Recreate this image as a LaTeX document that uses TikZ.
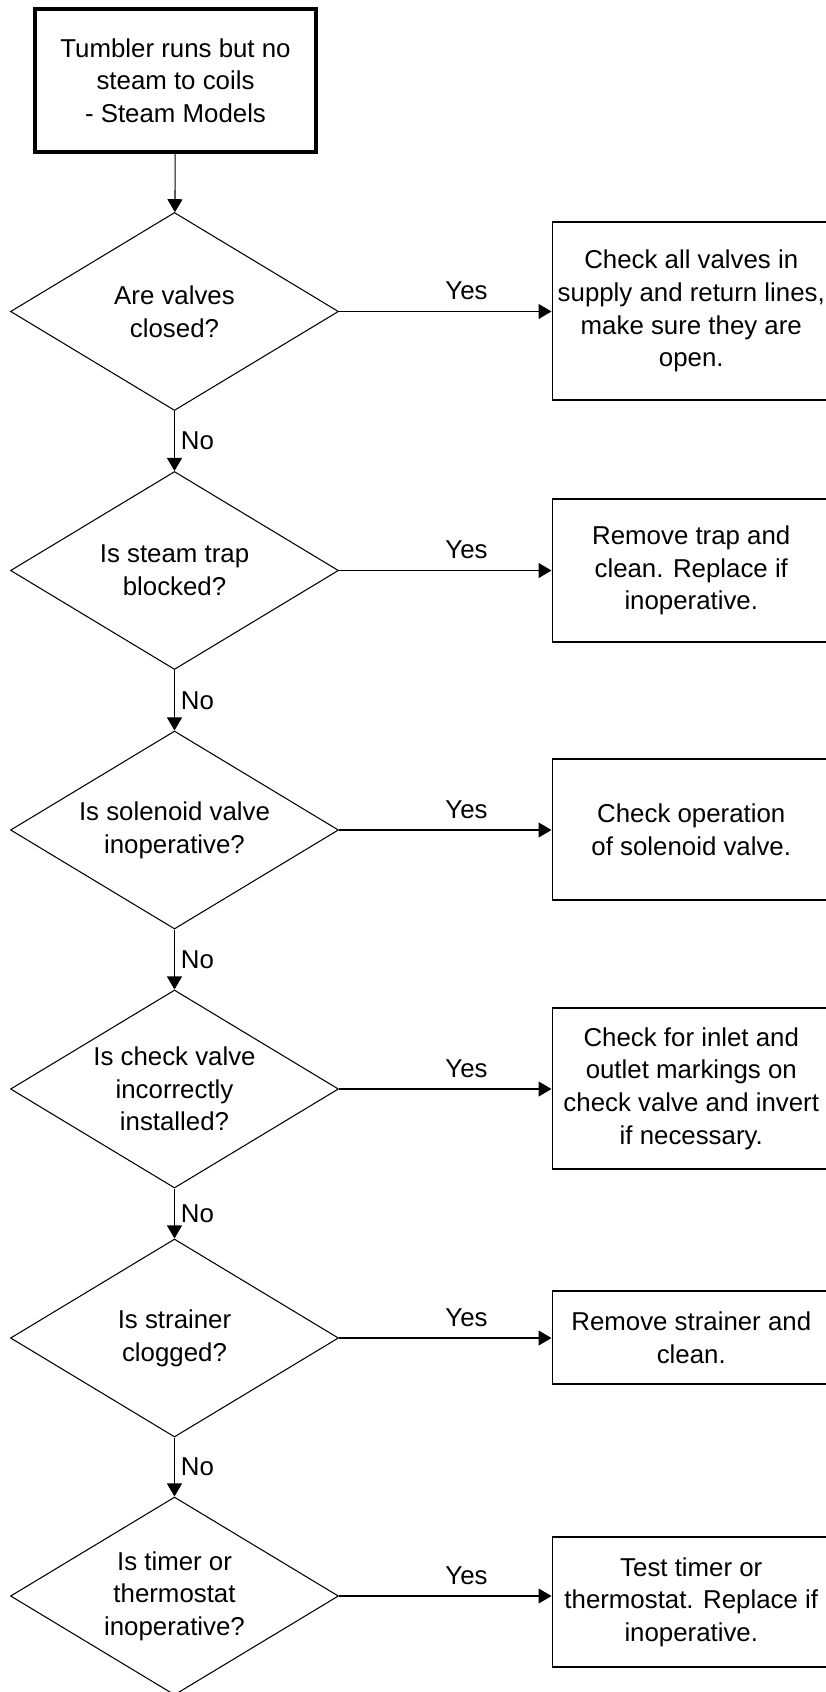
\documentclass[tikz,border=0pt]{standalone}
\usepackage{fontspec}
\setmainfont{Liberation Sans}
\usepackage{tikz}
\usetikzlibrary{shapes.geometric}
\usetikzlibrary{arrows.meta}

\tikzset{
  start/.style={draw, line width=0.07cm, minimum width=5.62cm, minimum height=2.86cm, align=center},
  question/.style={draw, diamond, aspect=1.66, inner sep=0pt, minimum width=6.56cm, minimum height=3.96cm, align=center},
  action/.style={draw, anchor=west, inner xsep=0.05cm, minimum width=5.57cm, align=center},
  flow/.style={-{Triangle[length=0.26cm,width=0.3cm]}},
  yes/.style={above=0.1cm, pos=0.6},
  no/.style={right, midway}
}

\begin{document}
\begin{tikzpicture}[line width=0.6pt, font=\fontsize{14.7}{18.6}\selectfont]
\useasboundingbox (0,0) rectangle (16.52,-33.84);

\node[start] (top) at (3.51,-1.61) {Tumbler runs but no\\steam to coils\\- Steam Models};

\node[question] (q1) at (3.49,-6.23) {Are valves\\closed?};
\node[question] (q2) at (3.49,-11.41) {Is steam trap\\blocked?};
\node[question] (q3) at (3.49,-16.60) {Is solenoid valve\\inoperative?};
\node[question] (q4) at (3.49,-21.78) {Is check valve\\incorrectly\\installed?};
\node[question] (q5) at (3.49,-26.76) {Is strainer\\clogged?};
\node[question] (q6) at (3.49,-31.92) {Is timer or\\thermostat\\inoperative?};

\node[action, minimum height=3.56cm] (a1) at (11.03,-6.22) {Check all valves in\\supply and return lines,\\make sure they are\\open.};
\node[action, minimum height=2.86cm] (a2) at (11.03,-11.41) {Remove trap and\\clean. Replace if\\inoperative.};
\node[action, minimum height=2.82cm] (a3) at (11.03,-16.59) {Check operation\\of solenoid valve.};
\node[action, minimum height=3.22cm] (a4) at (11.03,-21.77) {Check for inlet and\\outlet markings on\\check valve and invert\\if necessary.};
\node[action, minimum height=1.86cm] (a5) at (11.03,-26.75) {Remove strainer and\\clean.};
\node[action, minimum height=2.60cm] (a6) at (11.03,-32.04) {Test timer or\\thermostat. Replace if\\inoperative.};

\draw[flow] (top) -- (q1);
\draw[flow] (q1) -- node[no] {No} (q2);
\draw[flow] (q2) -- node[no] {No} (q3);
\draw[flow] (q3) -- node[no] {No} (q4);
\draw[flow] (q4) -- node[no] {No} (q5);
\draw[flow] (q5) -- node[no] {No} (q6);

\draw[flow] (q1.east) -- node[yes] {Yes} (q1.east -| a1.west);
\draw[flow] (q2.east) -- node[yes] {Yes} (q2.east -| a2.west);
\draw[flow] (q3.east) -- node[yes] {Yes} (q3.east -| a3.west);
\draw[flow] (q4.east) -- node[yes] {Yes} (q4.east -| a4.west);
\draw[flow] (q5.east) -- node[yes] {Yes} (q5.east -| a5.west);
\draw[flow] (q6.east) -- node[yes] {Yes} (q6.east -| a6.west);
\end{tikzpicture}
\end{document}
